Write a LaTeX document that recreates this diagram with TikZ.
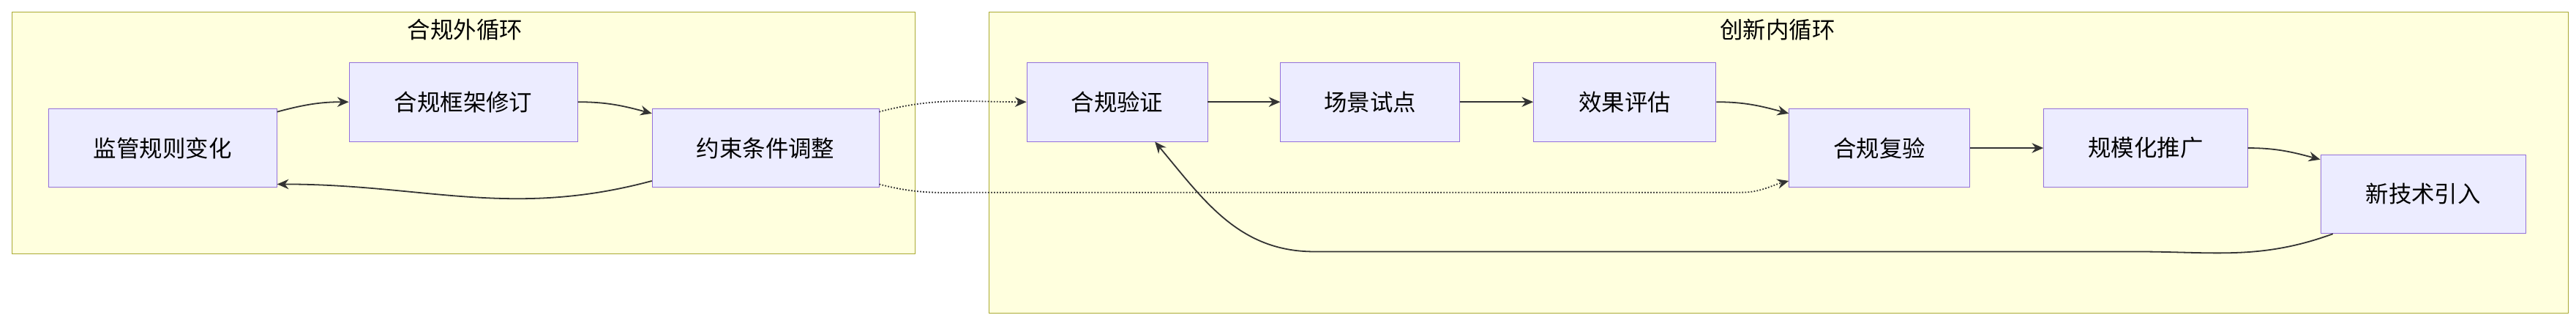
\documentclass[tikz,border=0pt]{standalone}
\usepackage{fontspec}
\setmainfont{Noto Sans CJK SC}
\usetikzlibrary{arrows.meta}
\definecolor{boxfill}{HTML}{ECECFF}
\definecolor{boxline}{HTML}{9370DB}
\definecolor{grpfill}{HTML}{FFFFDE}
\definecolor{grpline}{HTML}{AAAA33}
\begin{document}
\begin{tikzpicture}[x=1pt,y=-1pt,font=\fontsize{14}{16}\selectfont]
\useasboundingbox (0,0) rectangle (1568,198);
\begin{scope}[every node/.style={draw=grpline,fill=grpfill,anchor=north west,inner sep=0pt}]
    \node (outer) at (7,7) [minimum width=550pt,minimum height=147pt] {};
    \node (inner) at (602,7) [minimum width=961pt,minimum height=183pt] {};
\end{scope}
\node at (283,18) {合规外循环};
\node at (1082,18) {创新内循环};

\begin{scope}[every node/.style={draw=boxline,fill=boxfill,minimum height=48pt,inner sep=0pt}]
    \node (rule) at (99,90) [minimum width=139pt] {监管规则变化};
    \node (frame) at (282,62) [minimum width=139pt] {合规框架修订};
    \node (limit) at (466,90) [minimum width=138pt] {约束条件调整};
    \node (check) at (680,62) [minimum width=110pt] {合规验证};
    \node (pilot) at (834,62) [minimum width=109pt] {场景试点};
    \node (eval) at (989,62) [minimum width=111pt] {效果评估};
    \node (recheck) at (1144,90) [minimum width=110pt] {合规复验};
    \node (scale) at (1306,90) [minimum width=124pt] {规模化推广};
    \node (newtech) at (1475,118) [minimum width=125pt] {新技术引入};
\end{scope}

\begin{scope}[>={Stealth[length=7pt,width=6pt]}, draw=black!80, line width=0.8pt]
    \draw [->] ([yshift=22]rule.east) to[out=15,in=180] (frame.west);
    \draw [->] (frame.east) to[out=0,in=165] ([yshift=21]limit.west);
    \draw [->] ([yshift=-20]limit.west) to[out=195,in=0] ([yshift=-22]rule.east);
    \draw [->] (check) -- (pilot);
    \draw [->] (pilot) -- (eval);
    \draw [->] (eval.east) to[out=0,in=165] ([yshift=21]recheck.west);
    \draw [->] (recheck) -- (scale);
    \draw [->] (scale.east) to[out=0,in=165] ([yshift=21]newtech.west);
    \draw [->] ([xshift=-55]newtech.south) to[out=200,in=0] (1300,153)
        -- (800,153) to[out=180,in=-50] ([xshift=23]check.south);
    \draw [->,densely dotted] ([yshift=22]limit.east) to[out=15,in=180] (check.west);
    \draw [->,densely dotted] ([yshift=-22]limit.east) to[out=-15,in=180] (600,117)
        -- (1060,117) to[out=0,in=195] ([yshift=-20]recheck.west);
\end{scope}
\end{tikzpicture}
\end{document}
